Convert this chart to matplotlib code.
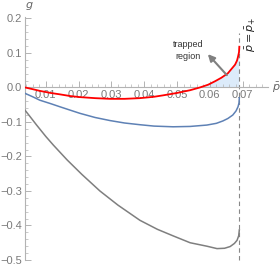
import matplotlib
matplotlib.use("Agg")
import matplotlib.pyplot as plt
from matplotlib.ticker import MultipleLocator, FixedLocator
import numpy as np

plt.rcParams['font.family'] = ['Liberation Sans', 'DejaVu Sans']
plt.rcParams['mathtext.fontset'] = 'dejavusans'

# ---- data ----
p_plus = 0.0690

red_x = [0.00366, 0.0060, 0.0082, 0.0115, 0.0143, 0.0175, 0.0204, 0.0250, 0.0296,
         0.0340, 0.0387, 0.0430, 0.0457, 0.0500, 0.0540, 0.0570, 0.0595, 0.0616,
         0.0635, 0.0655, 0.0670, 0.0677, 0.0683, 0.0686, 0.0689, 0.0690]
red_g = [0.000, -0.005, -0.010, -0.016, -0.020, -0.025, -0.028, -0.031, -0.033,
         -0.033, -0.031, -0.027, -0.023, -0.016, -0.008, 0.000, 0.008, 0.018,
         0.028, 0.041, 0.058, 0.066, 0.078, 0.089, 0.102, 0.118]

blue_x = [0.00366, 0.0060, 0.0082, 0.0115, 0.0143, 0.0175, 0.0204, 0.0250, 0.0296,
          0.0340, 0.0387, 0.0430, 0.0488, 0.0540, 0.0591, 0.0620, 0.0640, 0.0655,
          0.0670, 0.0680, 0.0686, 0.0689, 0.0690]
blue_g = [-0.017, -0.027, -0.037, -0.047, -0.056, -0.066, -0.075, -0.087, -0.096,
          -0.103, -0.108, -0.112, -0.114, -0.113, -0.109, -0.104, -0.097, -0.090,
          -0.080, -0.068, -0.056, -0.045, -0.030]

gray_x = [0.00366, 0.0050, 0.0072, 0.0100, 0.0123, 0.0165, 0.0210, 0.0265, 0.0320,
          0.0387, 0.0440, 0.0488, 0.0540, 0.0591, 0.0622, 0.0645, 0.0662, 0.0675,
          0.0683, 0.0688, 0.0690]
gray_g = [-0.066, -0.082, -0.109, -0.142, -0.167, -0.210, -0.252, -0.300, -0.341,
          -0.385, -0.411, -0.430, -0.450, -0.460, -0.467, -0.466, -0.461, -0.452,
          -0.443, -0.430, -0.413]

x_ticks = [0.01, 0.02, 0.03, 0.04, 0.05, 0.06, 0.07]
x_tick_labels = ["0.01", "0.02", "0.03", "0.04", "0.05", "0.06", "0.07"]
y_ticks = [-0.5, -0.4, -0.3, -0.2, -0.1, 0.0, 0.1, 0.2]
y_tick_labels = ["\u22120.5", "\u22120.4", "\u22120.3", "\u22120.2", "\u22120.1", "0.0", "0.1", "0.2"]

# ---- figure ----
fig = plt.figure(figsize=(2.8, 2.66), dpi=100)
ax = fig.add_axes([25/280, 1-260/266, (268-25)/280, (260-16.7)/266])
ax.set_xlim(0.00366, 0.07774)
ax.set_ylim(-0.5, 0.205)

axis_col = '#b3b3b3'
label_col = '#7a7a7a'
for s in ['top', 'right']:
    ax.spines[s].set_visible(False)
ax.spines['bottom'].set_position(('data', 0))
ax.spines['left'].set_color(axis_col)
ax.spines['bottom'].set_color(axis_col)
ax.spines['left'].set_linewidth(0.8)
ax.spines['bottom'].set_linewidth(0.8)

ax.xaxis.set_major_locator(FixedLocator(x_ticks))
ax.set_xticklabels(x_tick_labels)
ax.xaxis.set_minor_locator(MultipleLocator(0.002))
ax.yaxis.set_major_locator(FixedLocator(y_ticks))
ax.set_yticklabels(y_tick_labels)
ax.yaxis.set_minor_locator(MultipleLocator(0.02))
ax.tick_params(axis='both', which='both', direction='in', color=axis_col,
               labelcolor=label_col, labelsize=8)
ax.tick_params(which='major', length=4, width=0.7)
ax.tick_params(which='minor', length=2, width=0.5)
ax.tick_params(axis='x', pad=2)
ax.tick_params(axis='y', pad=2)

# shaded trapped region
rx = np.array(red_x)
rg = np.array(red_g)
ax.fill_between(rx, rg, 0, where=rg >= 0, color='#dcebfa', lw=0, interpolate=True, zorder=1)

ax.plot(gray_x, gray_g, color='#7f7f7f', lw=1.1, zorder=3, solid_joinstyle='round')
ax.plot(blue_x, blue_g, color='#5e81b5', lw=1.1, zorder=3, solid_joinstyle='round')
ax.plot(red_x, red_g, color='#ff0000', lw=1.3, zorder=4, solid_joinstyle='round')

ax.plot([p_plus, p_plus], [-0.5, 0.157], color='#888888', lw=0.8,
        ls=(0, (4, 3)), zorder=2, clip_on=False)

ax.annotate('', xy=(0.0594, 0.0965), xytext=(0.0652, 0.0357),
            arrowprops=dict(arrowstyle='-|>', color='#808080', lw=1.5,
                            mutation_scale=10, shrinkA=0, shrinkB=0), zorder=5)
ax.text(0.0534, 0.108, 'trapped\nregion', ha='center', va='center', fontsize=6.5,
        color='#333333', linespacing=1.4)
ax.text(0.0726, 0.1545, r'$\bar{p}=\bar{p}_{+}$', rotation=90, ha='center', va='center',
        fontsize=8, color='#222222')
ax.text(0.0802, -0.001, r'$\bar{p}$', ha='center', va='center', fontsize=8,
        color='#666666', clip_on=False)
ax.text(0.0049, 0.236, r'$g$', ha='center', va='center', fontsize=8,
        color='#666666', clip_on=False)

fig.savefig('out.png', dpi=100)
